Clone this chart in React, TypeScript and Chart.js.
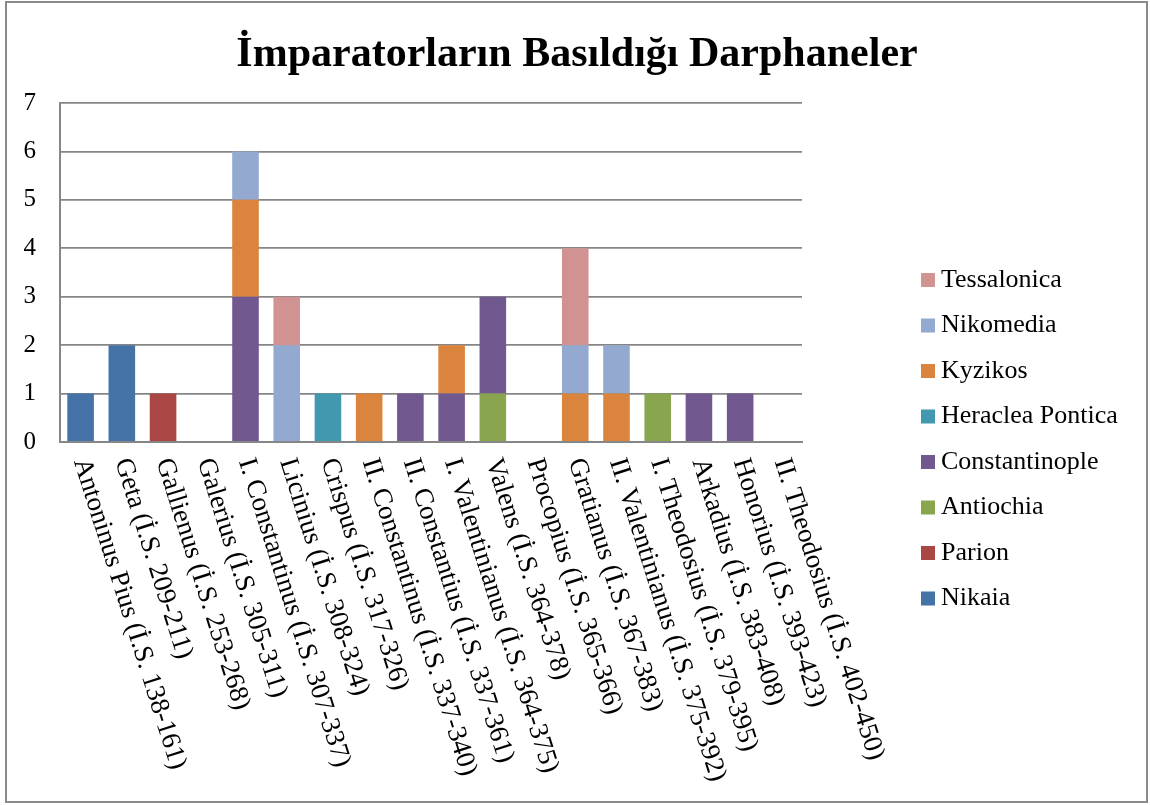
import React, { useEffect, useRef } from "react";
import { Chart, registerables } from "chart.js";

Chart.register(...registerables);

const TITLE = "İmparatorların Basıldığı Darphaneler";

const categories = [
  "Antoninus Pius (İ.S. 138-161)",
  "Geta (İ.S. 209-211)",
  "Gallienus (İ.S. 253-268)",
  "Galerius (İ.S. 305-311)",
  "I. Constantinus (İ.S. 307-337)",
  "Licinius (İ.S. 308-324)",
  "Crispus (İ.S. 317-326)",
  "II. Constantinus (İ.S. 337-340)",
  "II. Constantius (İ.S. 337-361)",
  "I. Valentinianus (İ.S. 364-375)",
  "Valens (İ.S. 364-378)",
  "Procopius (İ.S. 365-366)",
  "Gratianus (İ.S. 367-383)",
  "II. Valentinianus (İ.S. 375-392)",
  "I. Theodosius (İ.S. 379-395)",
  "Arkadius (İ.S. 383-408)",
  "Honorius (İ.S. 393-423)",
  "II. Theodosius (İ.S. 402-450)",
];

const nikaia = [1, 2, 0, 0, 0, 0, 0, 0, 0, 0, 0, 0, 0, 0, 0, 0, 0, 0];
const parion = [0, 0, 1, 0, 0, 0, 0, 0, 0, 0, 0, 0, 0, 0, 0, 0, 0, 0];
const antiochia = [0, 0, 0, 0, 0, 0, 0, 0, 0, 0, 1, 0, 0, 0, 1, 0, 0, 0];
const constantinople = [0, 0, 0, 0, 3, 0, 0, 0, 1, 1, 2, 0, 0, 0, 0, 1, 1, 0];
const heracleaPontica = [0, 0, 0, 0, 0, 0, 1, 0, 0, 0, 0, 0, 0, 0, 0, 0, 0, 0];
const kyzikos = [0, 0, 0, 0, 2, 0, 0, 1, 0, 1, 0, 0, 1, 1, 0, 0, 0, 0];
const nikomedia = [0, 0, 0, 0, 1, 2, 0, 0, 0, 0, 0, 0, 1, 1, 0, 0, 0, 0];
const tessalonica = [0, 0, 0, 0, 0, 1, 0, 0, 0, 0, 0, 0, 2, 0, 0, 0, 0, 0];

const seriesNames = [
  "Nikaia",
  "Parion",
  "Antiochia",
  "Constantinople",
  "Heraclea Pontica",
  "Kyzikos",
  "Nikomedia",
  "Tessalonica",
];
const seriesValues = [nikaia, parion, antiochia, constantinople, heracleaPontica, kyzikos, nikomedia, tessalonica];
const seriesColors = ["#4572A7", "#AA4643", "#89A54E", "#71588F", "#4198AF", "#DB843D", "#93A9CF", "#D19392"];

const yTicks = [0, 1, 2, 3, 4, 5, 6, 7];

const FONT = '"Liberation Serif", "Times New Roman", serif';

const decorPlugin = {
  id: "decor",
  beforeDraw(chart: any) {
    const ctx = chart.ctx;
    ctx.save();
    ctx.fillStyle = "#ffffff";
    ctx.fillRect(0, 0, chart.width, chart.height);
    ctx.strokeStyle = "#8a8a8a";
    ctx.lineWidth = 2;
    ctx.strokeRect(6, 2, 1141, 800);
    ctx.restore();
  },
  afterDraw(chart: any) {
    const ctx = chart.ctx;
    ctx.save();
    // title
    ctx.fillStyle = "#000";
    ctx.font = `bold 42px ${FONT}`;
    ctx.textAlign = "center";
    ctx.textBaseline = "alphabetic";
    ctx.fillText(TITLE, 577, 66);

    // rotated x labels
    const xs = chart.scales.x;
    ctx.font = `27px ${FONT}`;
    ctx.textAlign = "left";
    ctx.textBaseline = "middle";
    categories.forEach((lab, i) => {
      const x = xs.getPixelForValue(i);
      ctx.save();
      ctx.translate(x, 459);
      ctx.rotate((72.5 * Math.PI) / 180);
      ctx.fillText(lab, 0, 0);
      ctx.restore();
    });

    // legend (reversed order)
    ctx.font = `26px ${FONT}`;
    ctx.textBaseline = "middle";
    const n = seriesNames.length;
    for (let k = 0; k < n; k++) {
      const idx = n - 1 - k;
      const cy = 280 + k * 45.5;
      ctx.fillStyle = seriesColors[idx];
      ctx.fillRect(921, cy - 7, 14, 14);
      ctx.fillStyle = "#000";
      ctx.fillText(seriesNames[idx], 941, cy);
    }
    ctx.restore();
  },
};

export default function App() {
  const ref = useRef<HTMLCanvasElement>(null);
  useEffect(() => {
    const prevMargin = document.body.style.margin;
    document.body.style.margin = "0";
    const chart = new Chart(ref.current as HTMLCanvasElement, {
      type: "bar",
      data: {
        labels: categories,
        datasets: seriesNames.map((name, i) => ({
          label: name,
          data: seriesValues[i],
          backgroundColor: seriesColors[i],
          borderWidth: 0,
          barPercentage: 0.645,
          categoryPercentage: 1,
        })),
      },
      options: {
        responsive: false,
        animation: false,
        layout: { padding: { top: 103, bottom: 363, left: 0, right: 348 } },
        plugins: {
          legend: { display: false },
          title: { display: false },
          tooltip: { enabled: false },
        },
        scales: {
          x: {
            stacked: true,
            ticks: { display: false },
            grid: { display: false, drawTicks: false },
            border: { display: true, color: "#868686", width: 2 },
          },
          y: {
            stacked: true,
            min: 0,
            max: 7,
            afterFit: (s: any) => {
              s.width = 60;
            },
            afterBuildTicks: (s: any) => {
              s.ticks = yTicks.map((v) => ({ value: v }));
            },
            ticks: {
              stepSize: 1,
              padding: 24,
              color: "#000",
              font: { family: FONT, size: 25 },
            },
            grid: { color: "#868686", lineWidth: 1.8, drawTicks: false },
            border: { display: true, color: "#868686", width: 2 },
          },
        },
      },
      plugins: [decorPlugin],
    });
    return () => {
      chart.destroy();
      document.body.style.margin = prevMargin;
    };
  }, []);
  return (
    <div style={{ position: "absolute", left: 0, top: 0, width: 1150, height: 805 }}>
      <canvas ref={ref} width={1150} height={805} style={{ display: "block" }} />
    </div>
  );
}
